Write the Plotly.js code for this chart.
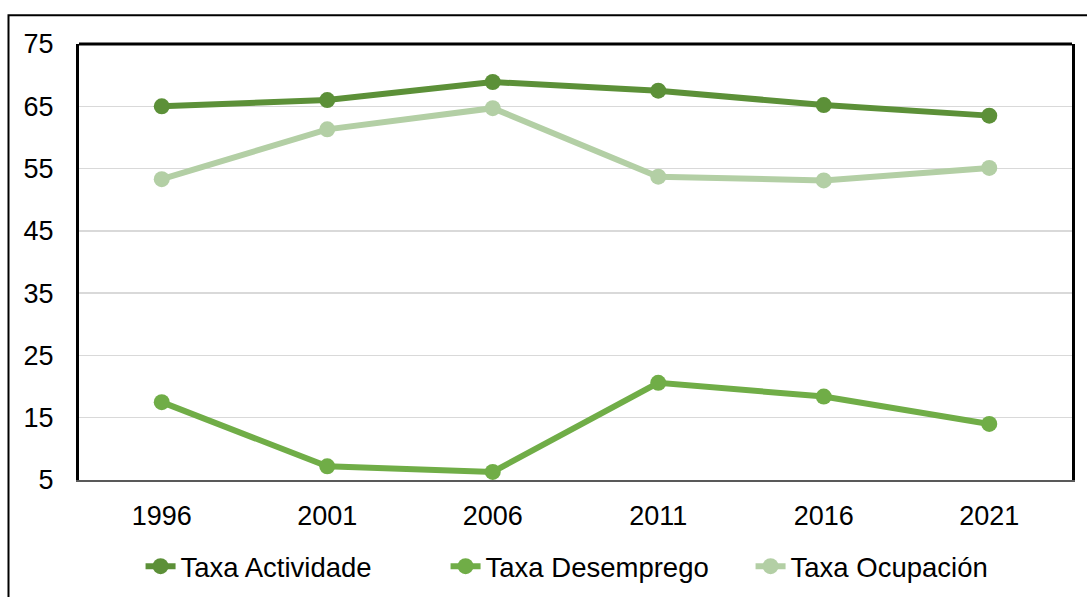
<!DOCTYPE html>
<html>
<head>
<meta charset="utf-8">
<script src="https://cdn.plot.ly/plotly-3.0.1.min.js"></script>
<style>html,body{margin:0;padding:0;background:#fff;}#chart{width:1087px;height:597px;}</style>
</head>
<body>
<div id="chart"></div>
<script>
const years = ["1996", "2001", "2006", "2011", "2016", "2021"];
const taxaActividade = [65.0, 66.0, 68.9, 67.5, 65.2, 63.5];
const taxaDesemprego = [17.5, 7.2, 6.3, 20.6, 18.4, 14.0];
const taxaOcupacion = [53.3, 61.3, 64.7, 53.7, 53.1, 55.1];
const yTicks = [5, 15, 25, 35, 45, 55, 65, 75];

const FONT = "Liberation Sans, Arial, sans-serif";

function series(name, y, color) {
  return {
    type: "scatter", mode: "lines+markers", name: name,
    x: years, y: y,
    line: {color: color, width: 6},
    marker: {color: color, size: 16},
    hoverinfo: "x+y"
  };
}

const data = [
  series("Taxa Actividade", taxaActividade, "#5c9038"),
  series("Taxa Desemprego", taxaDesemprego, "#70ad47"),
  series("Taxa Ocupación", taxaOcupacion, "#b3cfa5")
];

const layout = {
  width: 1087, height: 597,
  margin: {l: 78.5, r: 15, t: 43.7, b: 117.4, autoexpand: false},
  paper_bgcolor: "#ffffff", plot_bgcolor: "#ffffff",
  font: {family: FONT, size: 27, color: "#000000"},
  showlegend: true,
  legend: {
    orientation: "h", x: 0.062, xanchor: "left", y: -0.198, yanchor: "middle",
    font: {family: FONT, size: 27.5, color: "#000000"},
    entrywidth: 260, entrywidthmode: "pixels",
    bgcolor: "rgba(0,0,0,0)"
  },
  xaxis: {
    type: "category", range: [-0.5, 5.5],
    showgrid: false, zeroline: false,
    showline: true, linecolor: "#595959", linewidth: 2,
    ticks: "", ticklabelstandoff: 11,
    tickfont: {family: FONT, size: 27, color: "#000000"},
    fixedrange: true
  },
  yaxis: {
    range: [5, 75], tickmode: "array", tickvals: yTicks, ticktext: yTicks.map(String),
    showgrid: true, gridcolor: "#d9d9d9", gridwidth: 1.5,
    zeroline: false,
    showline: true, linecolor: "#000000", linewidth: 3, mirror: true,
    ticks: "", ticklabelstandoff: 17,
    tickfont: {family: FONT, size: 27, color: "#000000"},
    fixedrange: true
  },
  shapes: [
    {type: "line", xref: "paper", yref: "paper", x0: 0, x1: 1, y0: 1, y1: 1,
     line: {color: "#000000", width: 3}},
    {type: "rect", xref: "paper", yref: "paper", x0: -0.071, x1: 1.05, y0: -0.35, y1: 1.066,
     line: {color: "#000000", width: 2}, fillcolor: "rgba(0,0,0,0)", layer: "below"}
  ]
};

Plotly.newPlot("chart", data, layout, {displayModeBar: false, staticPlot: true});
</script>
</body>
</html>
